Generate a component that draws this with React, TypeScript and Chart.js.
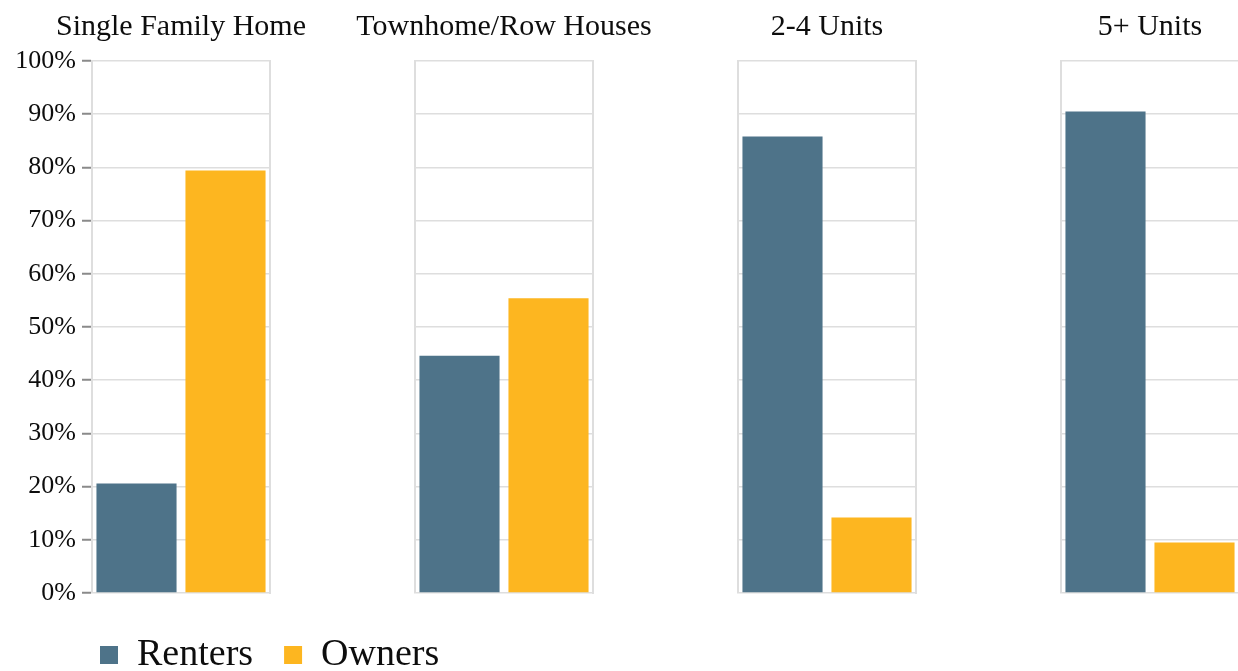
import React, { useEffect, useRef } from 'react';
import { Chart, registerables } from 'chart.js';

Chart.register(...registerables);

// ---- data ----
const panelTitles = ['Single Family Home', 'Townhome/Row Houses', '2-4 Units', '5+ Units'];
const seriesNames = ['Renters', 'Owners'];
const renters = [20.6, 44.6, 85.8, 90.5];
const owners = [79.4, 55.4, 14.2, 9.5];
const yMin = 0;
const yMax = 100;
const yStep = 10;

// ---- styles / layout ----
const seriesColors = ['#4e7389', '#fdb620'];
const FONT = "'Liberation Serif', 'DejaVu Serif', serif";
const TEXT = '#0d0d0d';
const GRID = '#dedede';
const PANEL_STEP = 323;
const PANEL_W = 178;
const SIDE_W = 92;
const TOP_H = 61;
const CANVAS_H = 600;
const TITLE_SIZE = 30;
const TITLE_PAD_TOP = 9;
const LEGEND_PAD = 31;
const LEGEND_SIZE = 38;

export default function App() {
  const panelRefs = useRef<(HTMLCanvasElement | null)[]>([]);
  const legendRef = useRef<HTMLCanvasElement | null>(null);

  useEffect(() => {
    document.body.style.margin = '0';
    Chart.defaults.font.family = FONT;
    Chart.defaults.color = TEXT;
    const charts: Chart[] = [];
    const titleLine = TITLE_SIZE * 1.2;

    panelTitles.forEach((title, i) => {
      const canvas = panelRefs.current[i];
      if (!canvas) return;
      const first = i === 0;
      charts.push(
        new Chart(canvas, {
          type: 'bar',
          data: {
            labels: seriesNames,
            datasets: [
              {
                data: [renters[i], owners[i]],
                backgroundColor: seriesColors,
                barPercentage: 0.9,
                categoryPercentage: 1,
              },
            ],
          },
          options: {
            animation: false,
            responsive: false,
            maintainAspectRatio: false,
            layout: { autoPadding: false, padding: { top: 0, bottom: 7, left: 0, right: 0 } },
            plugins: {
              legend: { display: false },
              tooltip: { enabled: false },
              title: {
                display: true,
                text: title,
                color: TEXT,
                font: { size: TITLE_SIZE, family: FONT, weight: 'normal' },
                padding: { top: TITLE_PAD_TOP, bottom: TOP_H - TITLE_PAD_TOP - titleLine },
              },
            },
            scales: {
              x: {
                display: false,
              },
              y: {
                min: yMin,
                max: yMax,
                position: 'left',
                ticks: {
                  display: first,
                  stepSize: yStep,
                  callback: (v: any) => v + '%',
                  font: { size: 26, family: FONT },
                  color: TEXT,
                  padding: 6,
                },
                grid: {
                  color: GRID,
                  lineWidth: 1.5,
                  drawTicks: first,
                  tickLength: 10,
                  tickColor: '#8a8a8a',
                  tickWidth: 2,
                },
                border: { display: true, color: GRID, width: 2 },
                afterFit: (s: any) => {
                  s.width = SIDE_W;
                  s.paddingTop = 0;
                  s.paddingBottom = 0;
                },
              },
              yr: {
                type: 'linear',
                position: 'right',
                display: true,
                ticks: { display: false },
                grid: { display: false },
                border: { display: true, color: GRID, width: 2 },
                afterFit: (s: any) => {
                  s.width = SIDE_W;
                  s.paddingTop = 0;
                  s.paddingBottom = 0;
                },
              },
            },
          } as any,
        })
      );
    });

    if (legendRef.current) {
      charts.push(
        new Chart(legendRef.current, {
          type: 'bar',
          data: {
            labels: ['a'],
            datasets: seriesNames.map((name, k) => ({
              label: name,
              data: [null],
              backgroundColor: seriesColors[k],
            })),
          },
          options: {
            animation: false,
            responsive: false,
            maintainAspectRatio: false,
            plugins: {
              tooltip: { enabled: false },
              legend: {
                display: true,
                position: 'top',
                align: 'start',
                labels: {
                  boxWidth: 18,
                  boxHeight: 18,
                  padding: LEGEND_PAD,
                  color: TEXT,
                  font: { size: LEGEND_SIZE, family: FONT },
                },
              },
            },
            scales: { x: { display: false }, y: { display: false } },
          } as any,
        })
      );
    }

    return () => charts.forEach((c) => c.destroy());
  }, []);

  const canvasW = SIDE_W + PANEL_W + SIDE_W;

  return (
    <div style={{ position: 'relative', width: 1238, height: 671, overflow: 'hidden', background: '#fff' }}>
      {panelTitles.map((t, i) => (
        <canvas
          key={t}
          ref={(el) => {
            panelRefs.current[i] = el;
          }}
          width={canvasW}
          height={CANVAS_H}
          style={{ position: 'absolute', left: i * PANEL_STEP, top: 0, width: canvasW, height: CANVAS_H }}
        />
      ))}
      <canvas
        ref={legendRef}
        width={600}
        height={200}
        style={{ position: 'absolute', left: 100 - LEGEND_PAD, top: 605, width: 600, height: 200 }}
      />
    </div>
  );
}
